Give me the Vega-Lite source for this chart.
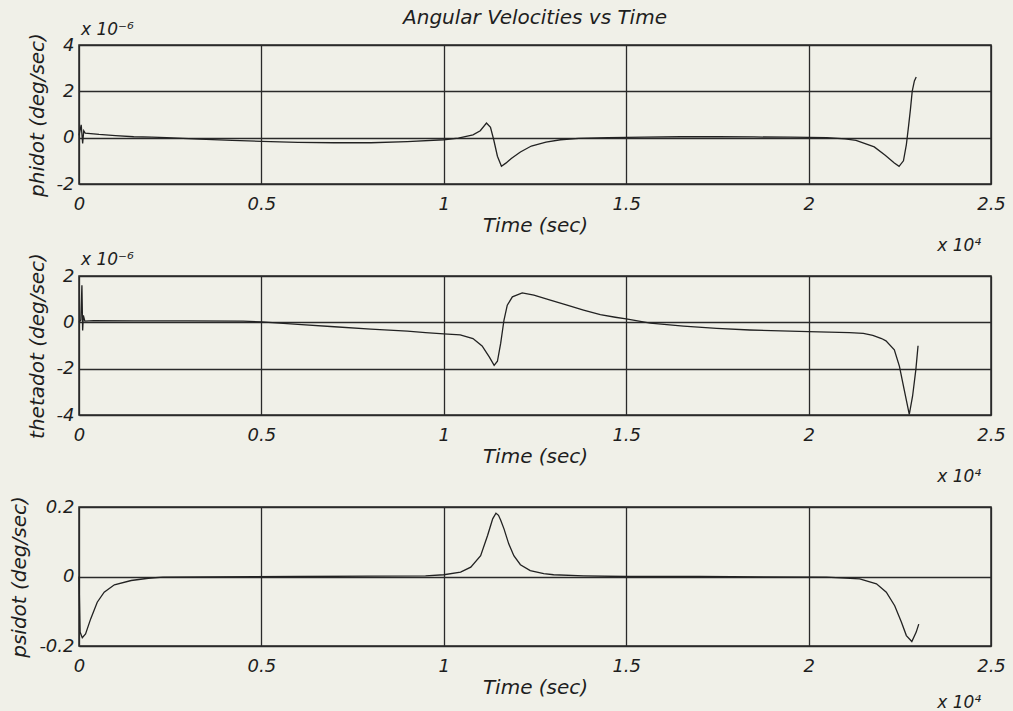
{
  "$schema": "https://vega.github.io/schema/vega-lite/v6.json",
  "background": "#f0f0e8",
  "padding": {"left": 9, "right": 6, "top": 7, "bottom": 0},
  "spacing": 92,
  "bounds": "flush",
  "datasets": {
    "phidot": [
      {"t": 0, "v": 1e-7}, {"t": 60, "v": 5.5e-7}, {"t": 100, "v": -2.5e-7}, {"t": 130, "v": 3e-7}, {"t": 170, "v": 2e-7},
      {"t": 550, "v": 1.4e-7}, {"t": 1000, "v": 9e-8}, {"t": 1500, "v": 4e-8}, {"t": 2000, "v": 2e-8}, {"t": 2400, "v": 0},
      {"t": 3300, "v": -6e-8}, {"t": 4200, "v": -1.2e-7}, {"t": 5000, "v": -1.6e-7}, {"t": 6000, "v": -2e-7}, {"t": 7000, "v": -2.2e-7},
      {"t": 8000, "v": -2.2e-7}, {"t": 9000, "v": -1.7e-7}, {"t": 10000, "v": -9e-8}, {"t": 10400, "v": -2e-8}, {"t": 10800, "v": 1.2e-7},
      {"t": 11000, "v": 3e-7}, {"t": 11170, "v": 6.3e-7}, {"t": 11280, "v": 4.5e-7}, {"t": 11370, "v": -1e-7}, {"t": 11470, "v": -8e-7},
      {"t": 11580, "v": -1.23e-6}, {"t": 11700, "v": -1.1e-6}, {"t": 11850, "v": -9e-7}, {"t": 12100, "v": -6.2e-7}, {"t": 12400, "v": -3.6e-7},
      {"t": 12800, "v": -1.9e-7}, {"t": 13200, "v": -9e-8}, {"t": 13700, "v": -3e-8}, {"t": 14500, "v": 0}, {"t": 15500, "v": 2e-8},
      {"t": 16500, "v": 4e-8}, {"t": 17500, "v": 4e-8}, {"t": 18500, "v": 3e-8}, {"t": 19500, "v": 2e-8}, {"t": 20500, "v": 0},
      {"t": 21000, "v": -5e-8}, {"t": 21300, "v": -1.2e-7}, {"t": 21800, "v": -4e-7}, {"t": 22100, "v": -7.6e-7}, {"t": 22350, "v": -1.09e-6},
      {"t": 22480, "v": -1.24e-6}, {"t": 22600, "v": -1e-6}, {"t": 22680, "v": -3e-7}, {"t": 22740, "v": 5e-7}, {"t": 22790, "v": 1.2e-6},
      {"t": 22840, "v": 2e-6}, {"t": 22900, "v": 2.45e-6}, {"t": 22950, "v": 2.62e-6}
    ],
    "thetadot": [
      {"t": 0, "v": 0}, {"t": 50, "v": 1e-7}, {"t": 80, "v": 1.6e-6}, {"t": 100, "v": -3.5e-7}, {"t": 120, "v": 3e-7},
      {"t": 160, "v": 5e-8}, {"t": 400, "v": 7e-8}, {"t": 1500, "v": 6e-8}, {"t": 3000, "v": 6e-8}, {"t": 4500, "v": 5e-8},
      {"t": 5000, "v": 2e-8}, {"t": 6000, "v": -9e-8}, {"t": 7000, "v": -1.9e-7}, {"t": 8000, "v": -2.9e-7}, {"t": 9000, "v": -3.8e-7},
      {"t": 9500, "v": -4.4e-7}, {"t": 10000, "v": -5e-7}, {"t": 10450, "v": -5.4e-7}, {"t": 10800, "v": -7e-7}, {"t": 11050, "v": -1.02e-6},
      {"t": 11250, "v": -1.5e-6}, {"t": 11380, "v": -1.86e-6}, {"t": 11470, "v": -1.68e-6}, {"t": 11560, "v": -9e-7}, {"t": 11650, "v": 1e-7},
      {"t": 11740, "v": 7.4e-7}, {"t": 11880, "v": 1.1e-6}, {"t": 12150, "v": 1.27e-6}, {"t": 12470, "v": 1.17e-6}, {"t": 12920, "v": 9.6e-7},
      {"t": 13380, "v": 7.4e-7}, {"t": 13830, "v": 5.3e-7}, {"t": 14290, "v": 3.3e-7}, {"t": 14700, "v": 2.2e-7}, {"t": 15000, "v": 1.5e-7},
      {"t": 15660, "v": -3e-8},
      {"t": 16570, "v": -1.6e-7}, {"t": 17480, "v": -2.6e-7}, {"t": 18390, "v": -3.3e-7}, {"t": 20000, "v": -4e-7}, {"t": 21120, "v": -4.4e-7},
      {"t": 21500, "v": -4.8e-7}, {"t": 21760, "v": -5.6e-7}, {"t": 22000, "v": -7e-7}, {"t": 22120, "v": -8e-7}, {"t": 22350, "v": -1.19e-6},
      {"t": 22490, "v": -1.9e-6}, {"t": 22620, "v": -2.9e-6}, {"t": 22760, "v": -3.97e-6}, {"t": 22850, "v": -3.19e-6}, {"t": 22940, "v": -2.04e-6},
      {"t": 23000, "v": -1.01e-6}
    ],
    "psidot": [
      {"t": 0, "v": 0}, {"t": 30, "v": -0.16}, {"t": 90, "v": -0.176}, {"t": 180, "v": -0.165}, {"t": 320, "v": -0.122},
      {"t": 500, "v": -0.074}, {"t": 690, "v": -0.045}, {"t": 970, "v": -0.024}, {"t": 1430, "v": -0.0115}, {"t": 1900, "v": -0.005},
      {"t": 2300, "v": -0.002}, {"t": 3500, "v": -0.001}, {"t": 6000, "v": 0}, {"t": 8000, "v": 0.001}, {"t": 9500, "v": 0.002},
      {"t": 10000, "v": 0.005}, {"t": 10460, "v": 0.0125}, {"t": 10740, "v": 0.027}, {"t": 11010, "v": 0.06}, {"t": 11200, "v": 0.118},
      {"t": 11340, "v": 0.166}, {"t": 11430, "v": 0.182}, {"t": 11500, "v": 0.176}, {"t": 11560, "v": 0.162}, {"t": 11650, "v": 0.137},
      {"t": 11780, "v": 0.094}, {"t": 11920, "v": 0.06}, {"t": 12100, "v": 0.034}, {"t": 12370, "v": 0.017}, {"t": 12740, "v": 0.008},
      {"t": 13010, "v": 0.005}, {"t": 13830, "v": 0.002}, {"t": 15000, "v": 0}, {"t": 17000, "v": 0}, {"t": 20490, "v": -0.002},
      {"t": 21400, "v": -0.007}, {"t": 21860, "v": -0.021}, {"t": 22130, "v": -0.045}, {"t": 22360, "v": -0.084}, {"t": 22540, "v": -0.13},
      {"t": 22680, "v": -0.17}, {"t": 22830, "v": -0.187}, {"t": 22950, "v": -0.16}, {"t": 23020, "v": -0.137}
    ],
    "mult6": [{"label": "x 10⁻⁶"}],
    "mult4": [{"label": "x 10⁴"}]
  },
  "vconcat": [
    {
      "width": 912, "height": 139,
      "title": {"text": "Angular Velocities vs Time", "anchor": "middle", "frame": "group", "offset": -7},
      "layer": [
        {
          "data": {"name": "phidot"},
          "mark": {"type": "line", "color": "#222222", "strokeWidth": 1.3},
          "encoding": {
            "x": {"field": "t", "type": "quantitative", "scale": {"domain": [0, 25000], "nice": false, "zero": false},
                  "axis": {"values": [0, 5000, 10000, 15000, 20000, 25000], "labelExpr": "datum.value/10000", "title": "Time (sec)"}},
            "y": {"field": "v", "type": "quantitative", "scale": {"domain": [-2e-6, 4e-6], "nice": false},
                  "axis": {"values": [-2e-6, 0, 2e-6, 4e-6], "labelExpr": "round(datum.value*1e6)", "title": "phidot (deg/sec)"}}
          }
        },
        {
          "data": {"name": "mult6"},
          "mark": {"type": "text", "align": "left", "baseline": "alphabetic", "dx": 2, "dy": -10, "fontSize": 17, "fontStyle": "italic", "font": "DejaVu Sans", "color": "#1e1e1e"},
          "encoding": {
            "x": {"datum": 0, "type": "quantitative"},
            "y": {"datum": 4e-6, "type": "quantitative"},
            "text": {"field": "label"}
          }
        },
        {
          "data": {"name": "mult4"},
          "mark": {"type": "text", "align": "right", "baseline": "middle", "dy": 62, "fontSize": 17, "fontStyle": "italic", "font": "DejaVu Sans", "color": "#1e1e1e"},
          "encoding": {
            "x": {"datum": 24730, "type": "quantitative"},
            "y": {"datum": -2e-6, "type": "quantitative"},
            "text": {"field": "label"}
          }
        }
      ]
    },
    {
      "width": 912, "height": 139,
      "layer": [
        {
          "data": {"name": "thetadot"},
          "mark": {"type": "line", "color": "#222222", "strokeWidth": 1.3},
          "encoding": {
            "x": {"field": "t", "type": "quantitative", "scale": {"domain": [0, 25000], "nice": false, "zero": false},
                  "axis": {"values": [0, 5000, 10000, 15000, 20000, 25000], "labelExpr": "datum.value/10000", "title": "Time (sec)"}},
            "y": {"field": "v", "type": "quantitative", "scale": {"domain": [-4e-6, 2e-6], "nice": false},
                  "axis": {"values": [-4e-6, -2e-6, 0, 2e-6], "labelExpr": "round(datum.value*1e6)", "title": "thetadot (deg/sec)"}}
          }
        },
        {
          "data": {"name": "mult6"},
          "mark": {"type": "text", "align": "left", "baseline": "alphabetic", "dx": 2, "dy": -11, "fontSize": 17, "fontStyle": "italic", "font": "DejaVu Sans", "color": "#1e1e1e"},
          "encoding": {
            "x": {"datum": 0, "type": "quantitative"},
            "y": {"datum": 2e-6, "type": "quantitative"},
            "text": {"field": "label"}
          }
        },
        {
          "data": {"name": "mult4"},
          "mark": {"type": "text", "align": "right", "baseline": "middle", "dy": 62, "fontSize": 17, "fontStyle": "italic", "font": "DejaVu Sans", "color": "#1e1e1e"},
          "encoding": {
            "x": {"datum": 24730, "type": "quantitative"},
            "y": {"datum": -4e-6, "type": "quantitative"},
            "text": {"field": "label"}
          }
        }
      ]
    },
    {
      "width": 912, "height": 139,
      "layer": [
        {
          "data": {"name": "psidot"},
          "mark": {"type": "line", "color": "#222222", "strokeWidth": 1.3},
          "encoding": {
            "x": {"field": "t", "type": "quantitative", "scale": {"domain": [0, 25000], "nice": false, "zero": false},
                  "axis": {"values": [0, 5000, 10000, 15000, 20000, 25000], "labelExpr": "datum.value/10000", "title": "Time (sec)"}},
            "y": {"field": "v", "type": "quantitative", "scale": {"domain": [-0.2, 0.2], "nice": false},
                  "axis": {"values": [-0.2, 0, 0.2], "labelExpr": "datum.value == 0 ? '0' : (datum.value < 0 ? '-' : '') + format(abs(datum.value), '.1f')", "title": "psidot (deg/sec)"}}
          }
        },
        {
          "data": {"name": "mult4"},
          "mark": {"type": "text", "align": "right", "baseline": "middle", "dy": 57, "fontSize": 17, "fontStyle": "italic", "font": "DejaVu Sans", "color": "#1e1e1e"},
          "encoding": {
            "x": {"datum": 24730, "type": "quantitative"},
            "y": {"datum": -0.2, "type": "quantitative"},
            "text": {"field": "label"}
          }
        }
      ]
    }
  ],
  "config": {
    "font": "DejaVu Sans",
    "view": {"stroke": "#262626", "strokeWidth": 1.5},
    "title": {"font": "DejaVu Sans", "fontSize": 20, "fontStyle": "italic", "fontWeight": "normal", "color": "#1e1e1e"},
    "axis": {
      "labelFont": "DejaVu Sans", "labelFontStyle": "italic", "labelFontSize": 18, "labelColor": "#1e1e1e",
      "titleFont": "DejaVu Sans", "titleFontStyle": "italic", "titleFontWeight": "normal", "titleFontSize": 20, "titleColor": "#1e1e1e",
      "grid": true, "gridColor": "#2a2a2a", "gridOpacity": 1, "gridWidth": 1.3,
      "domain": false, "ticks": false, "labelFlush": false, "labelOverlap": false
    },
    "axisX": {"labelPadding": 11, "titlePadding": 2},
    "axisY": {"labelPadding": 5, "titlePadding": 9}
  }
}
